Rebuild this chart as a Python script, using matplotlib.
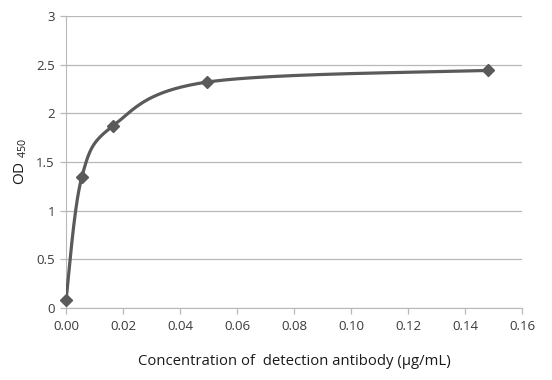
import numpy as np
import matplotlib
matplotlib.use("Agg")
import matplotlib.pyplot as plt

conc = [0.0, 0.0055, 0.0165, 0.0494, 0.148]
od450 = [0.08, 1.34, 1.87, 2.32, 2.44]
xticks = [0.00, 0.02, 0.04, 0.06, 0.08, 0.10, 0.12, 0.14, 0.16]
yticks = [0, 0.5, 1, 1.5, 2, 2.5, 3]

xlim = (0, 0.16)
ylim = (0, 3)


def smooth_curve(x, y, n=60):
    # Excel-like smoothed line: Catmull-Rom bezier in axis-normalised space
    px = (np.array(x) - xlim[0]) / (xlim[1] - xlim[0]) * 456
    py = (np.array(y) - ylim[0]) / (ylim[1] - ylim[0]) * 292
    pts = np.column_stack([px, py])
    out = []
    for i in range(len(pts) - 1):
        p0 = pts[i - 1] if i > 0 else pts[i]
        p1 = pts[i]
        p2 = pts[i + 1]
        p3 = pts[i + 2] if i + 2 < len(pts) else pts[i + 1]
        c1 = p1 + (p2 - p0) / 6.0
        c2 = p2 - (p3 - p1) / 6.0
        t = np.linspace(0, 1, n)[:, None]
        seg = ((1 - t) ** 3) * p1 + 3 * ((1 - t) ** 2) * t * c1 + 3 * (1 - t) * t ** 2 * c2 + t ** 3 * p2
        out.append(seg)
    out = np.vstack(out)
    sx = out[:, 0] / 456 * (xlim[1] - xlim[0]) + xlim[0]
    sy = out[:, 1] / 292 * (ylim[1] - ylim[0]) + ylim[0]
    return sx, sy


plt.rcParams['font.family'] = ['Open Sans', 'DejaVu Sans']
plt.rcParams['mathtext.fontset'] = 'custom'
plt.rcParams['mathtext.rm'] = 'Open Sans'
plt.rcParams['mathtext.it'] = 'Open Sans'
plt.rcParams['mathtext.default'] = 'rm'

fig = plt.figure(figsize=(5.52, 3.8), dpi=100)
ax = fig.add_axes([0.1196, 0.190, 0.826, 0.768])

sx, sy = smooth_curve(conc, od450)
ax.plot(sx, sy, color='#5a5a5a', lw=2.3, zorder=3)
ax.plot(conc, od450, linestyle='none', marker='D', markersize=6.5,
        color='#5a5a5a', zorder=4, clip_on=False)

ax.set_xlim(*xlim)
ax.set_ylim(*ylim)
ax.set_xticks(xticks)
ax.set_xticklabels(['%.2f' % v for v in xticks])
ax.set_yticks(yticks)
ax.set_yticklabels(['0', '0.5', '1', '1.5', '2', '2.5', '3'])

ax.grid(axis='y', color='#b8b8b8', lw=0.9)
ax.set_axisbelow(True)
for s in ['top', 'right']:
    ax.spines[s].set_visible(False)
ax.spines['left'].set_color('#b8b8b8')
ax.spines['bottom'].set_color('#b8b8b8')
ax.tick_params(axis='both', colors='#b8b8b8', labelcolor='#3a3a3a',
               labelsize=9.5, length=4, width=0.9)
ax.tick_params(axis='x', pad=5)
ax.tick_params(axis='y', pad=4)

ax.set_xlabel('Concentration of  detection antibody (μg/mL)', fontsize=10.7,
              color='#1a1a1a', labelpad=15)
ax.set_ylabel('OD $_{450}$', fontsize=11, color='#1a1a1a', labelpad=5)

fig.savefig('out.png', dpi=100)
